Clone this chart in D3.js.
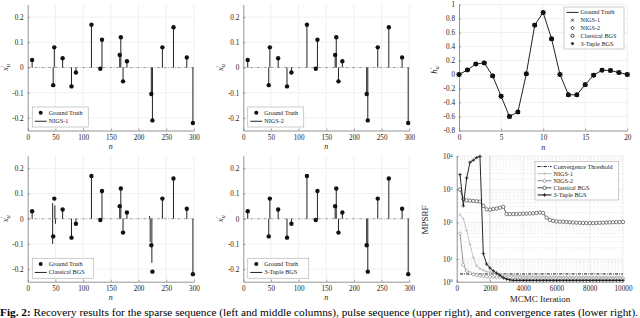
<!DOCTYPE html>
<html>
<head>
<meta charset="utf-8">
<script src="https://cdn.jsdelivr.net/npm/d3@7"></script>
<style>
  body { margin: 0; background: #fff; }
  svg { display: block; font-family: "Liberation Serif", "DejaVu Serif", serif; }
</style>
</head>
<body>
<svg id="fig" width="640" height="318"></svg>
<script>
// ---- sparse sequence (left / middle columns)
const sparseN = [8, 46, 48, 63, 79, 87, 115, 131, 134, 166, 168, 172, 179, 223, 225, 243, 263, 287, 298];
const sparseTruth = [0.03, -0.07, 0.08, 0.037, -0.075, -0.02, 0.17, -0.005, 0.11, 0.05, 0.12, -0.055, 0.025, -0.105, -0.21, 0.08, 0.16, 0.04, -0.22];
const nigs1Est = [0.03, -0.07, 0.08, 0.037, -0.075, -0.02, 0.17, -0.005, 0.11, 0.05, 0.12, -0.055, 0.025, -0.105, -0.21, 0.08, 0.16, 0.04, -0.22];
const nigs2Est = [0.03, -0.07, 0.08, 0.037, -0.075, -0.02, 0.17, -0.005, 0.11, 0.05, 0.12, -0.055, 0.025, -0.105, -0.21, 0.08, 0.16, 0.04, -0.22];
const tupleEst = [0.03, -0.07, 0.08, 0.037, -0.075, -0.02, 0.17, -0.005, 0.11, 0.05, 0.12, -0.055, 0.025, -0.105, -0.21, 0.08, 0.16, 0.04, -0.22];
const classicalN = [8, 45, 45, 49, 50, 63, 79, 87, 115, 131, 134, 166, 168, 172, 179, 220, 221, 224, 243, 263, 287, 298];
const classicalEst = [0.03, -0.1, 0.062, 0.053, -0.02, 0.037, -0.075, -0.02, 0.17, -0.005, 0.11, 0.05, 0.12, -0.055, 0.025, 0.011, -0.093, -0.175, 0.08, 0.16, 0.04, -0.22];
const sparseTicksX = [0, 50, 100, 150, 200, 250, 300];
const sparseTicksY = [-0.2, -0.1, 0, 0.1, 0.2];

// ---- pulse sequence (upper right)
const pulseN = [0, 1, 2, 3, 4, 5, 6, 7, 8, 9, 10, 11, 12, 13, 14, 15, 16, 17, 18, 19, 20];
const pulseTruth = [0, 0.065, 0.15, 0.165, -0.02, -0.31, -0.6, -0.535, 0.01, 0.705, 0.885, 0.51, 0, -0.29, -0.29, -0.145, -0.01, 0.062, 0.057, 0.028, 0];
const pulseNigs1 = [0, 0.065, 0.15, 0.165, -0.02, -0.31, -0.6, -0.535, 0.01, 0.705, 0.885, 0.51, 0, -0.29, -0.29, -0.145, -0.01, 0.062, 0.057, 0.028, 0];
const pulseNigs2 = [0, 0.065, 0.15, 0.165, -0.02, -0.31, -0.6, -0.535, 0.01, 0.705, 0.885, 0.51, 0, -0.29, -0.29, -0.145, -0.01, 0.062, 0.057, 0.028, 0];
const pulseClassical = [0, 0.065, 0.15, 0.165, -0.02, -0.31, -0.6, -0.535, 0.01, 0.705, 0.885, 0.51, 0, -0.29, -0.29, -0.145, -0.01, 0.062, 0.057, 0.028, 0];
const pulseTuple = [0, 0.065, 0.15, 0.165, -0.02, -0.31, -0.6, -0.535, 0.01, 0.705, 0.885, 0.51, 0, -0.29, -0.29, -0.145, -0.01, 0.062, 0.057, 0.028, 0];
const pulseTicksX = [0, 5, 10, 15, 20];
const pulseTicksY = [-0.8, -0.6, -0.4, -0.2, 0, 0.2, 0.4, 0.6, 0.8, 1];

// ---- convergence (lower right)
const iterations = [200, 400, 600, 800, 1000, 1200, 1400, 1600, 1800, 2000,
  2200, 2400, 2600, 2800, 3000, 3200, 3400, 3600, 3800, 4000,
  4200, 4400, 4600, 4800, 5000, 5200, 5400, 5600, 5800, 6000,
  6200, 6400, 6600, 6800, 7000, 7200, 7400, 7600, 7800, 8000,
  8200, 8400, 8600, 8800, 9000, 9200, 9400, 9600, 9800, 10000];
const mpsrfNigs1 = [170, 130, 60, 25, 11, 5, 3.8, 3.2, 2.8, 2.6,
  2.4, 2.25, 2.1, 2.0, 1.95, 1.9, 1.85, 1.82, 1.8, 1.78,
  1.76, 1.75, 1.74, 1.73, 1.72, 1.71, 1.7, 1.7, 1.69, 1.69,
  1.68, 1.68, 1.67, 1.67, 1.66, 1.66, 1.65, 1.65, 1.65, 1.64,
  1.64, 1.64, 1.63, 1.63, 1.63, 1.62, 1.62, 1.62, 1.61, 1.61];
const mpsrfNigs2 = [50, 5.5, 3.0, 2.4, 2.1, 1.95, 1.85, 1.75, 1.7, 1.65,
  1.6, 1.57, 1.55, 1.52, 1.5, 1.48, 1.46, 1.45, 1.44, 1.43,
  1.42, 1.4, 1.4, 1.4, 1.4, 1.4, 1.4, 1.4, 1.4, 1.4,
  1.4, 1.4, 1.4, 1.4, 1.4, 1.4, 1.4, 1.4, 1.4, 1.4,
  1.4, 1.4, 1.4, 1.4, 1.4, 1.4, 1.4, 1.4, 1.4, 1.4];
const mpsrfClassical = [1000, 520, 470, 460, 450, 440, 430, 320, 250, 245,
  255, 265, 280, 300, 180, 180, 180, 180, 182, 184,
  186, 188, 190, 195, 200, 195, 140, 120, 112, 108,
  106, 105, 104, 102, 100, 99, 98, 97, 97, 96,
  96, 97, 98, 99, 100, 101, 102, 103, 103, 104];
const mpsrfTuple = [2800, 320, 2200, 6500, 7500, 9000, 9800, 14, 6, 4,
  3, 2.4, 1.9, 1.5, 1.3, 1.2, 1.15, 1.15, 1.15, 1.15,
  1.15, 1.15, 1.15, 1.15, 1.15, 1.15, 1.15, 1.15, 1.15, 1.15,
  1.15, 1.15, 1.15, 1.15, 1.15, 1.15, 1.15, 1.15, 1.15, 1.15,
  1.15, 1.15, 1.15, 1.15, 1.15, 1.15, 1.15, 1.15, 1.15, 1.15];
const thresholdIter = [200, 10000];
const thresholdValue = [2.2, 2.2];
const mpsrfTicksX = [0, 2000, 4000, 6000, 8000, 10000];
const mpsrfTicksY = [1, 10, 100, 1000, 10000];

const caption = 'Recovery results for the sparse sequence (left and middle columns), pulse sequence (upper right), and convergence rates (lower right).';

const svg = d3.select('#fig');
const GRID = '#e6e6e6';
const TICK_FS = 7.2;

function markerPath(type, s) {
  if (type === 'x') return `M${-s},${-s}L${s},${s}M${-s},${s}L${s},${-s}`;
  if (type === '+') return `M${-s},0L${s},0M0,${-s}L0,${s}`;
  if (type === 'diamond') return `M0,${-s}L${s},0L0,${s}L${-s},0Z`;
  if (type === 'circle') return `M${s},0A${s},${s} 0 1,1 ${-s},0A${s},${s} 0 1,1 ${s},0Z`;
  const k = s * 0.7;
  return `M${-s},0L${s},0M0,${-s}L0,${s}M${-k},${-k}L${k},${k}M${-k},${k}L${k},${-k}`;
}

function styleAxis(a) {
  a.attr('font-family', null).attr('font-size', TICK_FS);
  a.select('.domain').attr('stroke', '#666').attr('stroke-width', 0.7);
  a.selectAll('.tick line').attr('stroke', '#666').attr('stroke-width', 0.6);
  a.selectAll('.tick text').attr('fill', '#222');
  return a;
}

function axes(g, x, y, xt, yt, fmtY) {
  const [x0, x1] = x.range();
  const [yb, yt0] = y.range();
  const ax = d3.axisBottom(x).tickValues(xt).tickSizeInner(-2).tickSizeOuter(0).tickPadding(4).tickFormat(String);
  styleAxis(g.append('g').attr('transform', `translate(0,${yb})`).call(ax));
  const ay = d3.axisLeft(y).tickValues(yt).tickSizeInner(-2).tickSizeOuter(0).tickPadding(4).tickFormat(fmtY || String);
  return styleAxis(g.append('g').attr('transform', `translate(${x0},0)`).call(ay));
}

function yLabel(g, x, y, base) {
  const t = g.append('text').attr('transform', `translate(${x},${y}) rotate(-90)`)
    .attr('text-anchor', 'middle').attr('font-size', 9).attr('fill', '#222');
  t.append('tspan').attr('font-style', 'italic').text(base);
  t.append('tspan').attr('font-size', 6).attr('dy', -3).text('′');
  t.append('tspan').attr('font-size', 6.5).attr('font-style', 'italic').attr('dy', 5).attr('dx', -1.5).text('u');
}

function legendBox(g, bx, by, rows, w, rowH, sampleW) {
  const box = g.append('rect').attr('x', bx).attr('y', by).attr('width', w).attr('height', rows.length * rowH + 3)
    .attr('fill', '#fff').attr('stroke', '#999').attr('stroke-width', 0.5);
  rows.forEach((r, i) => {
    const cy = by + 1.5 + rowH * (i + 0.5);
    const sx = bx + 2.5;
    if (r.line) {
      g.append('line').attr('x1', sx).attr('x2', sx + sampleW).attr('y1', cy).attr('y2', cy)
        .attr('stroke', r.color).attr('stroke-width', r.width || 1).attr('stroke-dasharray', r.dash || null);
    }
    if (r.dot) g.append('circle').attr('cx', sx + sampleW / 2).attr('cy', cy).attr('r', 2).attr('fill', '#111');
    if (r.marker) {
      g.append('path').attr('d', markerPath(r.marker, r.ms || 1.8))
        .attr('transform', `translate(${sx + sampleW / 2},${cy})`)
        .attr('fill', r.fill || 'none').attr('stroke', r.color).attr('stroke-width', 0.8);
    }
    g.append('text').attr('x', sx + sampleW + 2).attr('y', cy + 2).attr('font-size', 6.2).attr('fill', '#222').text(r.label);
  });
  return box;
}

// ---------------- sparse panels
const colX = [[27.7, 194], [243.3, 409.3]];
const rowY = [[130.5, 4.5], [281.7, 155.8]];
const sparsePanels = [
  { col: 0, row: 0, name: 'NIGS-1', n: sparseN, est: nigs1Est },
  { col: 1, row: 0, name: 'NIGS-2', n: sparseN, est: nigs2Est },
  { col: 0, row: 1, name: 'Classical BGS', n: classicalN, est: classicalEst },
  { col: 1, row: 1, name: '3-Tuple BGS', n: sparseN, est: tupleEst },
];

sparsePanels.forEach((p) => {
  const g = svg.append('g');
  const x = d3.scaleLinear().domain([0, 300]).range(colX[p.col]);
  const y = d3.scaleLinear().domain([-0.25, 0.25]).range(rowY[p.row]);
  const [yb, yt] = y.range();

  g.selectAll('.gx').data(sparseTicksX.slice(1)).join('line')
    .attr('x1', x).attr('x2', x).attr('y1', yb).attr('y2', yt).attr('stroke', GRID).attr('stroke-width', 0.6);
  g.selectAll('.gy').data(sparseTicksY.filter((d) => d !== 0)).join('line')
    .attr('x1', x(0)).attr('x2', x(300)).attr('y1', y).attr('y2', y).attr('stroke', GRID).attr('stroke-width', 0.6);

  axes(g, x, y, sparseTicksX, sparseTicksY);

  g.append('line').attr('x1', x(0)).attr('x2', x(300)).attr('y1', y(0)).attr('y2', y(0))
    .attr('stroke', '#888').attr('stroke-width', 0.8).attr('stroke-dasharray', '3,1.5,0.8,1.5');

  g.selectAll('.stem').data(d3.zip(p.n, p.est)).join('line')
    .attr('x1', (d) => x(d[0])).attr('x2', (d) => x(d[0]))
    .attr('y1', y(0)).attr('y2', (d) => y(d[1]))
    .attr('stroke', '#222').attr('stroke-width', 1);

  g.selectAll('.dot').data(d3.zip(sparseN, sparseTruth)).join('circle')
    .attr('cx', (d) => x(d[0])).attr('cy', (d) => y(d[1])).attr('r', 2.2).attr('fill', '#111');

  yLabel(g, x(0) - 20, (yb + yt) / 2, 'x');
  g.append('text').attr('x', (x(0) + x(300)) / 2).attr('y', yb + 18.5).attr('text-anchor', 'middle')
    .attr('font-size', 8).attr('font-style', 'italic').attr('fill', '#222').text('n');

  const w = p.name.length > 8 ? 61 : 56;
  legendBox(g, x(0) + 4.5, yb - 23.5, [
    { label: 'Ground Truth', dot: true },
    { label: p.name, line: true, color: '#222' },
  ], w, 8.5, 12);
});

// ---------------- pulse panel
{
  const g = svg.append('g');
  const x = d3.scaleLinear().domain([0, 20]).range([459, 627.3]);
  const y = d3.scaleLinear().domain([-0.8, 1]).range([130.5, 4.5]);
  g.selectAll('.gx').data(pulseTicksX.slice(1)).join('line')
    .attr('x1', x).attr('x2', x).attr('y1', y(-0.8)).attr('y2', y(1)).attr('stroke', GRID).attr('stroke-width', 0.6);
  g.selectAll('.gy').data(pulseTicksY.slice(1)).join('line')
    .attr('x1', x(0)).attr('x2', x(20)).attr('y1', y).attr('y2', y).attr('stroke', GRID).attr('stroke-width', 0.6);
  axes(g, x, y, pulseTicksX, pulseTicksY);

  const line = d3.line().x((d) => x(d[0])).y((d) => y(d[1]));
  g.append('path').datum(d3.zip(pulseN, pulseTruth)).attr('d', line)
    .attr('fill', 'none').attr('stroke', '#222').attr('stroke-width', 1);

  const sets = [
    { v: pulseNigs1, m: 'x' }, { v: pulseNigs2, m: 'diamond' },
    { v: pulseClassical, m: 'circle' }, { v: pulseTuple, m: '*' },
  ];
  sets.forEach((s) => {
    g.selectAll(null).data(d3.zip(pulseN, s.v)).join('path')
      .attr('d', markerPath(s.m, 2))
      .attr('transform', (d) => `translate(${x(d[0])},${y(d[1])})`)
      .attr('fill', s.m === 'circle' ? '#111' : 'none').attr('stroke', '#111').attr('stroke-width', 1);
  });

  yLabel(g, 437, 70, 'h');
  g.append('text').attr('x', (x(0) + x(20)) / 2).attr('y', 149.5).attr('text-anchor', 'middle')
    .attr('font-size', 8).attr('font-style', 'italic').attr('fill', '#222').text('n');

  legendBox(g, 564, 7, [
    { label: 'Ground Truth', line: true, color: '#222' },
    { label: 'NIGS-1', marker: 'x', color: '#111', ms: 1.5 },
    { label: 'NIGS-2', marker: 'diamond', color: '#111', ms: 1.8 },
    { label: 'Classical BGS', marker: 'circle', color: '#111', ms: 1.6 },
    { label: '3-Tuple BGS', marker: '*', color: '#111', ms: 1.6 },
  ], 60, 7.8, 12);
}

// ---------------- MPSRF panel
{
  const g = svg.append('g');
  const x = d3.scaleLinear().domain([0, 10000]).range([456.7, 623]);
  const y = d3.scaleLog().domain([1, 10, 100, 1000, 10000]).range([281.7, 259, 222.5, 189.5, 156]);

  const minor = [];
  [1, 10, 100, 1000].forEach((b) => [2, 3, 4, 5, 6, 7, 8, 9].forEach((m) => minor.push(b * m)));
  g.selectAll('.gm').data(minor).join('line')
    .attr('x1', x(0)).attr('x2', x(10000)).attr('y1', y).attr('y2', y)
    .attr('stroke', '#e2e2e2').attr('stroke-width', 0.6).attr('stroke-dasharray', '2,1.5');
  g.selectAll('.gy').data(mpsrfTicksY.slice(1)).join('line')
    .attr('x1', x(0)).attr('x2', x(10000)).attr('y1', y).attr('y2', y).attr('stroke', GRID).attr('stroke-width', 0.6);
  g.selectAll('.gx').data(mpsrfTicksX.slice(1)).join('line')
    .attr('x1', x).attr('x2', x).attr('y1', y(1)).attr('y2', y(10000))
    .attr('stroke', (d) => (d === 2000 ? '#bbb' : GRID)).attr('stroke-width', 0.6);

  const ay = axes(g, x, y, mpsrfTicksX, mpsrfTicksY, () => '');
  ay.selectAll('.tick text').each(function (d) {
    const t = d3.select(this);
    t.text('10');
    t.append('tspan').attr('dy', '-0.45em').attr('font-size', 4.8).text(Math.round(Math.log10(d)));
  });

  const line = d3.line().x((d) => x(d[0])).y((d) => y(d[1]));
  g.append('path').datum(d3.zip(thresholdIter, thresholdValue)).attr('d', line)
    .attr('fill', 'none').attr('stroke', '#111').attr('stroke-width', 1).attr('stroke-dasharray', '3,1.2,0.8,1.2');

  const series = [
    { v: mpsrfNigs1, color: '#bdbdbd', m: '+', ms: 1.5, fill: 'none' },
    { v: mpsrfNigs2, color: '#8a8a8a', m: 'diamond', ms: 1.8, fill: '#fff' },
    { v: mpsrfClassical, color: '#4a4a4a', m: 'circle', ms: 1.7, fill: '#fff' },
    { v: mpsrfTuple, color: '#111', m: '+', ms: 1.8, fill: 'none' },
  ];
  series.forEach((s) => {
    const data = d3.zip(iterations, s.v);
    g.append('path').datum(data).attr('d', line).attr('fill', 'none').attr('stroke', s.color).attr('stroke-width', 0.9);
    g.selectAll(null).data(data).join('path')
      .attr('d', markerPath(s.m, s.ms))
      .attr('transform', (d) => `translate(${x(d[0])},${y(d[1])})`)
      .attr('fill', s.fill).attr('stroke', s.color).attr('stroke-width', 0.7);
  });

  g.append('text').attr('transform', 'translate(428,220) rotate(-90)').attr('text-anchor', 'middle')
    .attr('font-size', 9).attr('fill', '#222').text('MPSRF');
  g.append('text').attr('x', 540).attr('y', 302).attr('text-anchor', 'middle')
    .attr('font-size', 9).attr('fill', '#222').text('MCMC Iteration');

  legendBox(g, 535, 161.5, [
    { label: 'Convergence Threshold', line: true, color: '#111', dash: '3,1.2,0.8,1.2' },
    { label: 'NIGS-1', line: true, color: '#bdbdbd', marker: '+', ms: 1.5 },
    { label: 'NIGS-2', line: true, color: '#8a8a8a', marker: 'diamond', ms: 1.8, fill: '#fff' },
    { label: 'Classical BGS', line: true, color: '#4a4a4a', marker: 'circle', ms: 1.7, fill: '#fff' },
    { label: '3-Tuple BGS', line: true, color: '#111', marker: '+', ms: 1.8 },
  ], 83.5, 7.1, 14);
}

// ---------------- caption
const cap = svg.append('text').attr('x', 0).attr('y', 316).attr('font-size', 10.2).attr('fill', '#000')
  .attr('textLength', 638).attr('lengthAdjust', 'spacingAndGlyphs');
cap.append('tspan').attr('font-weight', 'bold').text('Fig. 2:');
cap.append('tspan').text(' ' + caption);
</script>
</body>
</html>
